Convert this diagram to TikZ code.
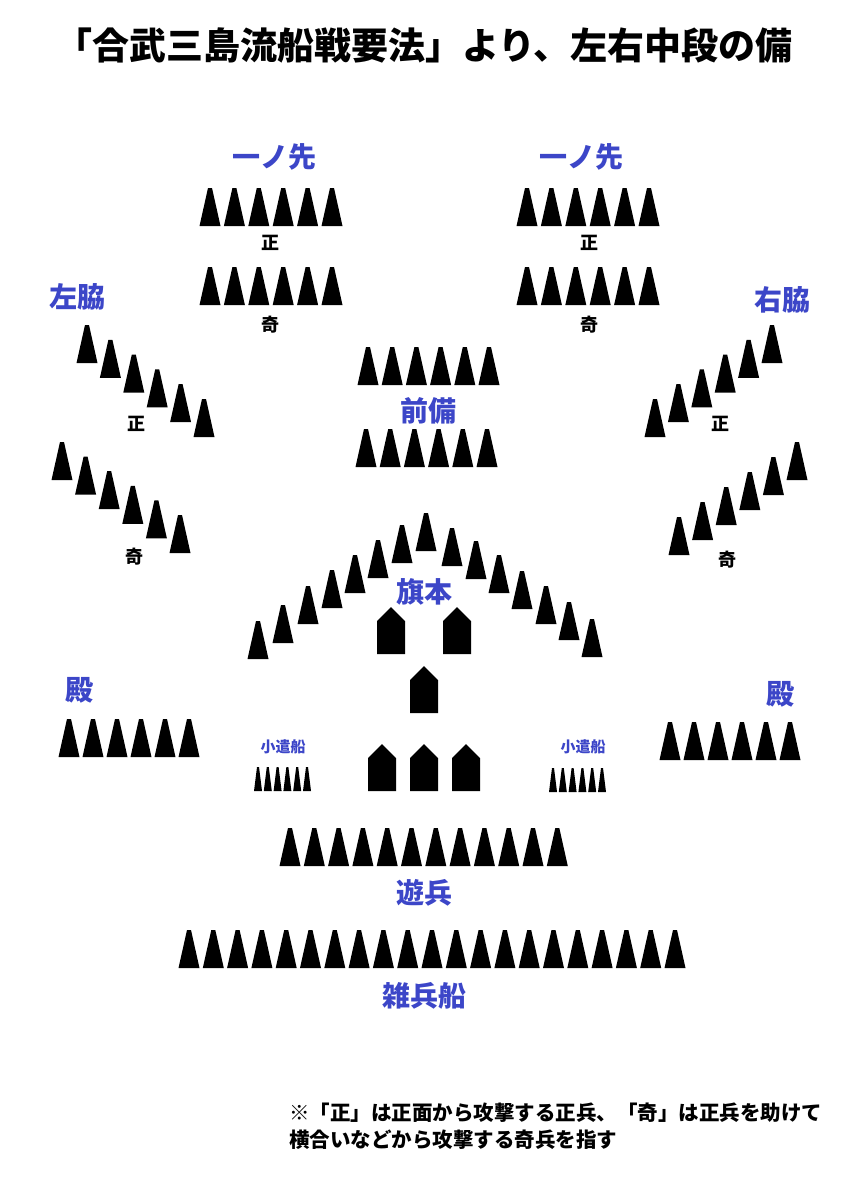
\documentclass[tikz,border=0pt]{standalone}
\usepackage{fontspec}
\newfontfamily\jp{Noto Sans CJK JP}
\definecolor{lb}{RGB}{60,70,200}
\newcommand\shp[2]{\fill (#1-10.5,#2) -- (#1-2,#2-38) -- (#1+2,#2-38) -- (#1+10.5,#2) -- cycle;}
\newcommand\tinyshp[2]{\fill (#1-4,#2) -- (#1-1,#2-24) -- (#1+1,#2-24) -- (#1+4,#2) -- cycle;}
\newcommand\hse[2]{\fill (#1-14,#2) -- (#1-14,#2-33) -- (#1,#2-47) -- (#1+14,#2-33) -- (#1+14,#2) -- cycle;}
\begin{document}
\begin{tikzpicture}[x=1pt,y=-1pt,
  lbl/.style={text=lb,font=\jp\bfseries\fontsize{28}{28}\selectfont,inner sep=0},
  sub/.style={text=black,font=\jp\bfseries\fontsize{18}{18}\selectfont,inner sep=0},
  sm/.style={text=lb,font=\jp\bfseries\fontsize{15}{15}\selectfont,inner sep=0}]
\useasboundingbox (0,0) rectangle (853,1200);
\node[font=\jp\bfseries\fontsize{37}{37}\selectfont,inner sep=0] (title) at (424,45) {「合武三島流船戦要法」より、左右中段の備};
% 一ノ先
\node[lbl] (l1) at (274,157) {一ノ先};
\node[lbl] (r1) at (581,157) {一ノ先};
\foreach \i in {0,...,5}{\shp{210+24.4*\i}{226}\shp{210+24.4*\i}{305}\shp{527+24.4*\i}{226}\shp{527+24.4*\i}{305}}
\node[sub] (l1s) at (270,243) {正};
\node[sub] (l1k) at (270,325) {奇};
\node[sub] (r1s) at (589,243) {正};
\node[sub] (r1k) at (589,325) {奇};
% 左脇 右脇
\node[lbl] (lw) at (77,297) {左脇};
\node[lbl] (rw) at (782,300) {右脇};
\foreach \i in {0,...,5}{
 \shp{87+23.4*\i}{363+14.8*\i}
 \shp{62+23.6*\i}{480+14.6*\i}
 \shp{772-23.4*\i}{363+14.8*\i}
 \shp{797-23.6*\i}{480+15*\i}}
\node[sub] (lws) at (136,424) {正};
\node[sub] (lwk) at (134,557) {奇};
\node[sub] (rws) at (720,424) {正};
\node[sub] (rwk) at (727,560) {奇};
% 前備
\foreach \i in {0,...,5}{\shp{368+24.2*\i}{385}\shp{366+24.2*\i}{467}}
\node[lbl] (mae) at (428,411) {前備};
% 旗本
\foreach \x/\y in {258/659,283/643,308/624,332/608,355/593,378/578,402/563,426/551,452/566,476/579,499/593,522/609,546/624,569/640,592/657}{\shp{\x}{\y}}
\node[lbl] (hata) at (424,592) {旗本};
\hse{391}{654}\hse{457}{654}\hse{424}{713}
\hse{382}{791}\hse{424}{791}\hse{466}{791}
% 小遣船
\node[sm] (kl) at (283,747) {小遣船};
\node[sm] (kr) at (583,747) {小遣船};
\foreach \i in {0,...,5}{\tinyshp{258+9.8*\i}{791}\tinyshp{553+9.8*\i}{792}}
% 殿
\node[lbl] (tl) at (79,690) {殿};
\node[lbl] (tr) at (780,694) {殿};
\foreach \i in {0,...,5}{\shp{69+24*\i}{757}\shp{670+24*\i}{760}}
% 遊兵
\foreach \i in {0,...,11}{\shp{290+24.3*\i}{866}}
\node[lbl] (yu) at (424,893) {遊兵};
% 雑兵船
\foreach \i in {0,...,20}{\shp{189+24.3*\i}{968}}
\node[lbl] (zo) at (424,996) {雑兵船};
% note
\node[anchor=west,font=\jp\bfseries\fontsize{20.5}{20.5}\selectfont,inner sep=0] (n1) at (289,1113) {※「正」は正面から攻撃する正兵、「奇」は正兵を助けて};
\node[anchor=west,font=\jp\bfseries\fontsize{20.5}{20.5}\selectfont,inner sep=0] (n2) at (289,1140) {横合いなどから攻撃する奇兵を指す};
\end{tikzpicture}
\end{document}
